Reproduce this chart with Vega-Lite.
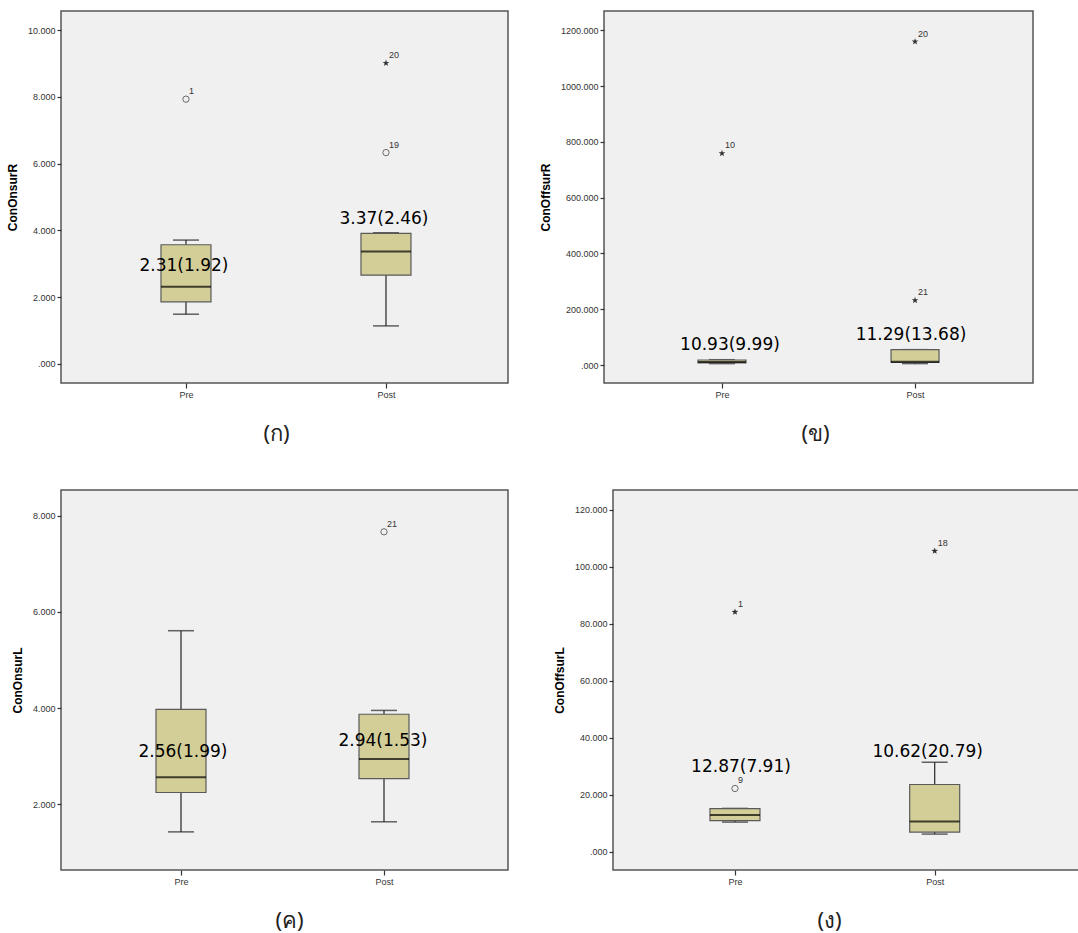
{
  "$schema": "https://vega.github.io/schema/vega-lite/v6.json",
  "padding": {"left": 5, "top": 10, "right": 0, "bottom": 0},
  "background": "white",
  "datasets": {
    "box": [
      {"panel": "A", "group": "Pre", "lower": 1.49, "q1": 1.86, "median": 2.31, "q3": 3.57, "upper": 3.71, "label": "2.31(1.92)"},
      {"panel": "A", "group": "Post", "lower": 1.14, "q1": 2.66, "median": 3.37, "q3": 3.91, "upper": 3.93, "label": "3.37(2.46)"},
      {"panel": "B", "group": "Pre", "lower": 5, "q1": 8, "median": 10.93, "q3": 18, "upper": 19, "label": "10.93(9.99)"},
      {"panel": "B", "group": "Post", "lower": 5, "q1": 9, "median": 11.29, "q3": 55, "upper": 55, "label": "11.29(13.68)"},
      {"panel": "C", "group": "Pre", "lower": 1.42, "q1": 2.24, "median": 2.56, "q3": 3.97, "upper": 5.61, "label": "2.56(1.99)"},
      {"panel": "C", "group": "Post", "lower": 1.63, "q1": 2.53, "median": 2.94, "q3": 3.87, "upper": 3.95, "label": "2.94(1.53)"},
      {"panel": "D", "group": "Pre", "lower": 10.4, "q1": 10.9, "median": 12.87, "q3": 15.1, "upper": 15.2, "label": "12.87(7.91)"},
      {"panel": "D", "group": "Post", "lower": 6.2, "q1": 6.9, "median": 10.62, "q3": 23.6, "upper": 31.4, "label": "10.62(20.79)"}
    ],
    "out": [
      {"panel": "A", "group": "Pre", "value": 7.93, "id": "1", "kind": "circle"},
      {"panel": "A", "group": "Post", "value": 6.33, "id": "19", "kind": "circle"},
      {"panel": "A", "group": "Post", "value": 9.01, "id": "20", "kind": "star"},
      {"panel": "B", "group": "Pre", "value": 759, "id": "10", "kind": "star"},
      {"panel": "B", "group": "Post", "value": 1159, "id": "20", "kind": "star"},
      {"panel": "B", "group": "Post", "value": 232, "id": "21", "kind": "star"},
      {"panel": "C", "group": "Post", "value": 7.67, "id": "21", "kind": "circle"},
      {"panel": "D", "group": "Pre", "value": 84.1, "id": "1", "kind": "star"},
      {"panel": "D", "group": "Pre", "value": 22.2, "id": "9", "kind": "circle"},
      {"panel": "D", "group": "Post", "value": 105.5, "id": "18", "kind": "star"}
    ]
  },
  "config": {
    "font": "Liberation Sans",
    "view": {"fill": "#F0F0F0", "stroke": "#555555", "strokeWidth": 1.5},
    "axisY": {"domain": false, "grid": false, "tickSize": 4, "tickColor": "#333333", "tickWidth": 1.2, "labelFontSize": 9, "labelColor": "#333333", "labelPadding": 2, "labelFont": "Liberation Sans", "titleFont": "Liberation Sans", "titleFontSize": 12, "titleFontWeight": "bold", "titleColor": "#000000", "titlePadding": 8, "labelExpr": "datum.value == 0 ? '.000' : format(datum.value, '.3f')"},
    "axisX": {"domain": false, "grid": false, "tickSize": 5, "tickColor": "#333333", "tickWidth": 1.2, "labelFontSize": 9, "labelColor": "#333333", "labelAngle": 0, "labelPadding": 2, "labelFont": "Liberation Sans", "titleFont": "Noto Sans", "titleFontSize": 22, "titleFontWeight": "normal", "titleColor": "#222222", "titlePadding": 24}
  },
  "columns": 1,
  "align": "none",
  "spacing": 44,
  "concat": [
    {
      "spacing": 29,
      "hconcat": [
        {
          "width": 447, "height": 372,
          "encoding": {"x": {"field": "group", "type": "nominal", "sort": ["Pre", "Post"], "scale": {"type": "point", "padding": 0.6175, "align": 0.506}, "axis": {"title": "(ก)", "titleX": 215}}},
          "layer": [
            {"data": {"name": "box"}, "transform": [{"filter": "datum.panel == 'A'"}], "mark": {"type": "rule", "color": "#333333", "strokeWidth": 1.3}, "encoding": {"y": {"field": "lower", "type": "quantitative", "title": "ConOnsurR", "scale": {"domain": [-0.57, 10.57], "nice": false, "zero": false}, "axis": {"values": [0, 2, 4, 6, 8, 10]}}, "y2": {"field": "upper"}}},
            {"data": {"name": "box"}, "transform": [{"filter": "datum.panel == 'A'"}], "mark": {"type": "tick", "color": "#222222", "size": 26, "thickness": 1.5}, "encoding": {"y": {"field": "lower", "type": "quantitative", "title": "ConOnsurR", "scale": {"domain": [-0.57, 10.57], "nice": false, "zero": false}}}},
            {"data": {"name": "box"}, "transform": [{"filter": "datum.panel == 'A'"}], "mark": {"type": "tick", "color": "#222222", "size": 26, "thickness": 1.5}, "encoding": {"y": {"field": "upper", "type": "quantitative", "title": "ConOnsurR", "scale": {"domain": [-0.57, 10.57], "nice": false, "zero": false}}}},
            {"data": {"name": "box"}, "transform": [{"filter": "datum.panel == 'A'"}], "mark": {"type": "bar", "size": 50, "fill": "#D3CE97", "stroke": "#5a5a5a", "strokeWidth": 1.2}, "encoding": {"y": {"field": "q1", "type": "quantitative", "title": "ConOnsurR", "scale": {"domain": [-0.57, 10.57], "nice": false, "zero": false}}, "y2": {"field": "q3"}}},
            {"data": {"name": "box"}, "transform": [{"filter": "datum.panel == 'A'"}], "mark": {"type": "tick", "color": "#000000", "size": 50, "thickness": 2}, "encoding": {"y": {"field": "median", "type": "quantitative", "title": "ConOnsurR", "scale": {"domain": [-0.57, 10.57], "nice": false, "zero": false}}}},
            {"data": {"name": "out"}, "transform": [{"filter": "datum.panel == 'A' && datum.kind == 'circle'"}], "mark": {"type": "point", "shape": "circle", "filled": false, "stroke": "#333333", "strokeWidth": 1, "size": 40}, "encoding": {"y": {"field": "value", "type": "quantitative", "title": "ConOnsurR", "scale": {"domain": [-0.57, 10.57], "nice": false, "zero": false}}}},
            {"data": {"name": "out"}, "transform": [{"filter": "datum.panel == 'A' && datum.kind == 'star'"}], "mark": {"type": "point", "shape": "M0,-1L0.235,-0.324L0.951,-0.309L0.38,0.124L0.588,0.809L0,0.4L-0.588,0.809L-0.38,0.124L-0.951,-0.309L-0.235,-0.324Z", "filled": true, "color": "#333333", "opacity": 1, "size": 50}, "encoding": {"y": {"field": "value", "type": "quantitative", "title": "ConOnsurR", "scale": {"domain": [-0.57, 10.57], "nice": false, "zero": false}}}},
            {"data": {"name": "out"}, "transform": [{"filter": "datum.panel == 'A'"}], "mark": {"type": "text", "align": "left", "baseline": "middle", "dx": 3, "dy": -8, "fontSize": 9, "color": "#333333"}, "encoding": {"y": {"field": "value", "type": "quantitative", "title": "ConOnsurR", "scale": {"domain": [-0.57, 10.57], "nice": false, "zero": false}}, "text": {"field": "id"}}},
            {"data": {"name": "box"}, "transform": [{"filter": "datum.panel == 'A' && datum.group == 'Pre'"}], "mark": {"type": "text", "font": "DejaVu Sans", "fontSize": 17, "color": "#000000", "baseline": "middle", "align": "center", "dx": -2, "dy": -21}, "encoding": {"y": {"field": "median", "type": "quantitative", "title": "ConOnsurR", "scale": {"domain": [-0.57, 10.57], "nice": false, "zero": false}}, "text": {"field": "label"}}},
            {"data": {"name": "box"}, "transform": [{"filter": "datum.panel == 'A' && datum.group == 'Post'"}], "mark": {"type": "text", "font": "DejaVu Sans", "fontSize": 17, "color": "#000000", "baseline": "middle", "align": "center", "dx": -2, "dy": -32}, "encoding": {"y": {"field": "median", "type": "quantitative", "title": "ConOnsurR", "scale": {"domain": [-0.57, 10.57], "nice": false, "zero": false}}, "text": {"field": "label"}}}
          ]
        },
        {
          "width": 429, "height": 372,
          "encoding": {"x": {"field": "group", "type": "nominal", "sort": ["Pre", "Post"], "scale": {"type": "point", "padding": 0.611}, "axis": {"title": "(ข)", "titleX": 211}}},
          "layer": [
            {"data": {"name": "box"}, "transform": [{"filter": "datum.panel == 'B'"}], "mark": {"type": "rule", "color": "#333333", "strokeWidth": 1.3}, "encoding": {"y": {"field": "lower", "type": "quantitative", "title": "ConOffsurR", "scale": {"domain": [-64.5, 1269], "nice": false, "zero": false}, "axis": {"values": [0, 200, 400, 600, 800, 1000, 1200]}}, "y2": {"field": "upper"}}},
            {"data": {"name": "box"}, "transform": [{"filter": "datum.panel == 'B'"}], "mark": {"type": "tick", "color": "#222222", "size": 26, "thickness": 1.5}, "encoding": {"y": {"field": "lower", "type": "quantitative", "title": "ConOffsurR", "scale": {"domain": [-64.5, 1269], "nice": false, "zero": false}}}},
            {"data": {"name": "box"}, "transform": [{"filter": "datum.panel == 'B'"}], "mark": {"type": "tick", "color": "#222222", "size": 26, "thickness": 1.5}, "encoding": {"y": {"field": "upper", "type": "quantitative", "title": "ConOffsurR", "scale": {"domain": [-64.5, 1269], "nice": false, "zero": false}}}},
            {"data": {"name": "box"}, "transform": [{"filter": "datum.panel == 'B'"}], "mark": {"type": "bar", "size": 48, "fill": "#D3CE97", "stroke": "#5a5a5a", "strokeWidth": 1.2}, "encoding": {"y": {"field": "q1", "type": "quantitative", "title": "ConOffsurR", "scale": {"domain": [-64.5, 1269], "nice": false, "zero": false}}, "y2": {"field": "q3"}}},
            {"data": {"name": "box"}, "transform": [{"filter": "datum.panel == 'B'"}], "mark": {"type": "tick", "color": "#000000", "size": 48, "thickness": 2}, "encoding": {"y": {"field": "median", "type": "quantitative", "title": "ConOffsurR", "scale": {"domain": [-64.5, 1269], "nice": false, "zero": false}}}},
            {"data": {"name": "out"}, "transform": [{"filter": "datum.panel == 'B' && datum.kind == 'star'"}], "mark": {"type": "point", "shape": "M0,-1L0.235,-0.324L0.951,-0.309L0.38,0.124L0.588,0.809L0,0.4L-0.588,0.809L-0.38,0.124L-0.951,-0.309L-0.235,-0.324Z", "filled": true, "color": "#333333", "opacity": 1, "size": 50}, "encoding": {"y": {"field": "value", "type": "quantitative", "title": "ConOffsurR", "scale": {"domain": [-64.5, 1269], "nice": false, "zero": false}}}},
            {"data": {"name": "out"}, "transform": [{"filter": "datum.panel == 'B'"}], "mark": {"type": "text", "align": "left", "baseline": "middle", "dx": 3, "dy": -8, "fontSize": 9, "color": "#333333"}, "encoding": {"y": {"field": "value", "type": "quantitative", "title": "ConOffsurR", "scale": {"domain": [-64.5, 1269], "nice": false, "zero": false}}, "text": {"field": "id"}}},
            {"data": {"name": "box"}, "transform": [{"filter": "datum.panel == 'B' && datum.group == 'Pre'"}], "mark": {"type": "text", "font": "DejaVu Sans", "fontSize": 17, "color": "#000000", "baseline": "middle", "align": "center", "dx": 8, "dy": -17}, "encoding": {"y": {"field": "median", "type": "quantitative", "title": "ConOffsurR", "scale": {"domain": [-64.5, 1269], "nice": false, "zero": false}}, "text": {"field": "label"}}},
            {"data": {"name": "box"}, "transform": [{"filter": "datum.panel == 'B' && datum.group == 'Post'"}], "mark": {"type": "text", "font": "DejaVu Sans", "fontSize": 17, "color": "#000000", "baseline": "middle", "align": "center", "dx": -4, "dy": -27}, "encoding": {"y": {"field": "median", "type": "quantitative", "title": "ConOffsurR", "scale": {"domain": [-64.5, 1269], "nice": false, "zero": false}}, "text": {"field": "label"}}}
          ]
        }
      ]
    },
    {
      "spacing": 43,
      "hconcat": [
        {
          "width": 447, "height": 380,
          "encoding": {"x": {"field": "group", "type": "nominal", "sort": ["Pre", "Post"], "scale": {"type": "point", "padding": 0.601, "align": 0.4918}, "axis": {"title": "(ค)", "titleX": 228}}},
          "layer": [
            {"data": {"name": "box"}, "transform": [{"filter": "datum.panel == 'C'"}], "mark": {"type": "rule", "color": "#333333", "strokeWidth": 1.3}, "encoding": {"y": {"field": "lower", "type": "quantitative", "title": "ConOnsurL", "scale": {"domain": [0.626, 8.541], "nice": false, "zero": false}, "axis": {"values": [2, 4, 6, 8]}}, "y2": {"field": "upper"}}},
            {"data": {"name": "box"}, "transform": [{"filter": "datum.panel == 'C'"}], "mark": {"type": "tick", "color": "#222222", "size": 26, "thickness": 1.5}, "encoding": {"y": {"field": "lower", "type": "quantitative", "title": "ConOnsurL", "scale": {"domain": [0.626, 8.541], "nice": false, "zero": false}}}},
            {"data": {"name": "box"}, "transform": [{"filter": "datum.panel == 'C'"}], "mark": {"type": "tick", "color": "#222222", "size": 26, "thickness": 1.5}, "encoding": {"y": {"field": "upper", "type": "quantitative", "title": "ConOnsurL", "scale": {"domain": [0.626, 8.541], "nice": false, "zero": false}}}},
            {"data": {"name": "box"}, "transform": [{"filter": "datum.panel == 'C'"}], "mark": {"type": "bar", "size": 50, "fill": "#D3CE97", "stroke": "#5a5a5a", "strokeWidth": 1.2}, "encoding": {"y": {"field": "q1", "type": "quantitative", "title": "ConOnsurL", "scale": {"domain": [0.626, 8.541], "nice": false, "zero": false}}, "y2": {"field": "q3"}}},
            {"data": {"name": "box"}, "transform": [{"filter": "datum.panel == 'C'"}], "mark": {"type": "tick", "color": "#000000", "size": 50, "thickness": 2}, "encoding": {"y": {"field": "median", "type": "quantitative", "title": "ConOnsurL", "scale": {"domain": [0.626, 8.541], "nice": false, "zero": false}}}},
            {"data": {"name": "out"}, "transform": [{"filter": "datum.panel == 'C' && datum.kind == 'circle'"}], "mark": {"type": "point", "shape": "circle", "filled": false, "stroke": "#333333", "strokeWidth": 1, "size": 40}, "encoding": {"y": {"field": "value", "type": "quantitative", "title": "ConOnsurL", "scale": {"domain": [0.626, 8.541], "nice": false, "zero": false}}}},
            {"data": {"name": "out"}, "transform": [{"filter": "datum.panel == 'C'"}], "mark": {"type": "text", "align": "left", "baseline": "middle", "dx": 3, "dy": -8, "fontSize": 9, "color": "#333333"}, "encoding": {"y": {"field": "value", "type": "quantitative", "title": "ConOnsurL", "scale": {"domain": [0.626, 8.541], "nice": false, "zero": false}}, "text": {"field": "id"}}},
            {"data": {"name": "box"}, "transform": [{"filter": "datum.panel == 'C' && datum.group == 'Pre'"}], "mark": {"type": "text", "font": "DejaVu Sans", "fontSize": 17, "color": "#000000", "baseline": "middle", "align": "center", "dx": 2, "dy": -25}, "encoding": {"y": {"field": "median", "type": "quantitative", "title": "ConOnsurL", "scale": {"domain": [0.626, 8.541], "nice": false, "zero": false}}, "text": {"field": "label"}}},
            {"data": {"name": "box"}, "transform": [{"filter": "datum.panel == 'C' && datum.group == 'Post'"}], "mark": {"type": "text", "font": "DejaVu Sans", "fontSize": 17, "color": "#000000", "baseline": "middle", "align": "center", "dx": -1, "dy": -18}, "encoding": {"y": {"field": "median", "type": "quantitative", "title": "ConOnsurL", "scale": {"domain": [0.626, 8.541], "nice": false, "zero": false}}, "text": {"field": "label"}}}
          ]
        },
        {
          "width": 480, "height": 380,
          "encoding": {"x": {"field": "group", "type": "nominal", "sort": ["Pre", "Post"], "scale": {"type": "point", "padding": 0.7018, "align": 0.4352}, "axis": {"title": "(ง)", "titleX": 216}}},
          "layer": [
            {"data": {"name": "box"}, "transform": [{"filter": "datum.panel == 'D'"}], "mark": {"type": "rule", "color": "#333333", "strokeWidth": 1.3}, "encoding": {"y": {"field": "lower", "type": "quantitative", "title": "ConOffsurL", "scale": {"domain": [-6.4, 126.9], "nice": false, "zero": false}, "axis": {"values": [0, 20, 40, 60, 80, 100, 120]}}, "y2": {"field": "upper"}}},
            {"data": {"name": "box"}, "transform": [{"filter": "datum.panel == 'D'"}], "mark": {"type": "tick", "color": "#222222", "size": 26, "thickness": 1.5}, "encoding": {"y": {"field": "lower", "type": "quantitative", "title": "ConOffsurL", "scale": {"domain": [-6.4, 126.9], "nice": false, "zero": false}}}},
            {"data": {"name": "box"}, "transform": [{"filter": "datum.panel == 'D'"}], "mark": {"type": "tick", "color": "#222222", "size": 26, "thickness": 1.5}, "encoding": {"y": {"field": "upper", "type": "quantitative", "title": "ConOffsurL", "scale": {"domain": [-6.4, 126.9], "nice": false, "zero": false}}}},
            {"data": {"name": "box"}, "transform": [{"filter": "datum.panel == 'D'"}], "mark": {"type": "bar", "size": 50, "fill": "#D3CE97", "stroke": "#5a5a5a", "strokeWidth": 1.2}, "encoding": {"y": {"field": "q1", "type": "quantitative", "title": "ConOffsurL", "scale": {"domain": [-6.4, 126.9], "nice": false, "zero": false}}, "y2": {"field": "q3"}}},
            {"data": {"name": "box"}, "transform": [{"filter": "datum.panel == 'D'"}], "mark": {"type": "tick", "color": "#000000", "size": 50, "thickness": 2}, "encoding": {"y": {"field": "median", "type": "quantitative", "title": "ConOffsurL", "scale": {"domain": [-6.4, 126.9], "nice": false, "zero": false}}}},
            {"data": {"name": "out"}, "transform": [{"filter": "datum.panel == 'D' && datum.kind == 'circle'"}], "mark": {"type": "point", "shape": "circle", "filled": false, "stroke": "#333333", "strokeWidth": 1, "size": 40}, "encoding": {"y": {"field": "value", "type": "quantitative", "title": "ConOffsurL", "scale": {"domain": [-6.4, 126.9], "nice": false, "zero": false}}}},
            {"data": {"name": "out"}, "transform": [{"filter": "datum.panel == 'D' && datum.kind == 'star'"}], "mark": {"type": "point", "shape": "M0,-1L0.235,-0.324L0.951,-0.309L0.38,0.124L0.588,0.809L0,0.4L-0.588,0.809L-0.38,0.124L-0.951,-0.309L-0.235,-0.324Z", "filled": true, "color": "#333333", "opacity": 1, "size": 50}, "encoding": {"y": {"field": "value", "type": "quantitative", "title": "ConOffsurL", "scale": {"domain": [-6.4, 126.9], "nice": false, "zero": false}}}},
            {"data": {"name": "out"}, "transform": [{"filter": "datum.panel == 'D'"}], "mark": {"type": "text", "align": "left", "baseline": "middle", "dx": 3, "dy": -8, "fontSize": 9, "color": "#333333"}, "encoding": {"y": {"field": "value", "type": "quantitative", "title": "ConOffsurL", "scale": {"domain": [-6.4, 126.9], "nice": false, "zero": false}}, "text": {"field": "id"}}},
            {"data": {"name": "box"}, "transform": [{"filter": "datum.panel == 'D' && datum.group == 'Pre'"}], "mark": {"type": "text", "font": "DejaVu Sans", "fontSize": 17, "color": "#000000", "baseline": "middle", "align": "center", "dx": 6, "dy": -48}, "encoding": {"y": {"field": "median", "type": "quantitative", "title": "ConOffsurL", "scale": {"domain": [-6.4, 126.9], "nice": false, "zero": false}}, "text": {"field": "label"}}},
            {"data": {"name": "box"}, "transform": [{"filter": "datum.panel == 'D' && datum.group == 'Post'"}], "mark": {"type": "text", "font": "DejaVu Sans", "fontSize": 17, "color": "#000000", "baseline": "middle", "align": "center", "dx": -7, "dy": -69}, "encoding": {"y": {"field": "median", "type": "quantitative", "title": "ConOffsurL", "scale": {"domain": [-6.4, 126.9], "nice": false, "zero": false}}, "text": {"field": "label"}}}
          ]
        }
      ]
    }
  ]
}
